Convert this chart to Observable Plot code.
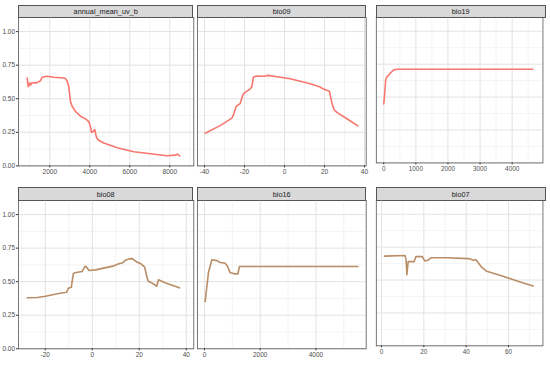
<!DOCTYPE html>
<html>
<head>
<meta charset="utf-8">
<script src="https://cdn.jsdelivr.net/npm/d3@7"></script>
<script src="https://cdn.jsdelivr.net/npm/@observablehq/plot@0.6"></script>
<style>
  html, body { margin: 0; padding: 0; background: #fff; }
  #chart { position: relative; width: 550px; height: 365px; overflow: hidden; font-family: "Liberation Sans", Arial, sans-serif; }
  .strip { position: absolute; box-sizing: border-box; background: #d9d9d9; border: 0.7px solid #555;
           font-size: 7.3px; color: #1a1a1a; text-align: center; }
  .pane { position: absolute; }
</style>
</head>
<body>
<div id="chart"></div>
<script>
// ---- data ----
const panelNames = ["annual_mean_uv_b", "bio09", "bio19", "bio08", "bio16", "bio07"];

const uvbX = [870, 920, 1000, 1040, 1080, 1370, 1535, 1620, 1870, 2200, 2700, 2785, 2870, 2950, 2985, 3035, 3120, 3285, 3535, 3785, 3950, 4035, 4085, 4170, 4250, 4320, 4400, 4700, 5370, 6200, 7035, 7870, 8285, 8370, 8500];
const uvbY = [0.654, 0.59, 0.617, 0.60, 0.617, 0.62, 0.635, 0.66, 0.667, 0.66, 0.655, 0.65, 0.63, 0.59, 0.54, 0.48, 0.443, 0.405, 0.37, 0.35, 0.33, 0.29, 0.25, 0.256, 0.27, 0.22, 0.195, 0.17, 0.135, 0.105, 0.09, 0.075, 0.08, 0.088, 0.075];

const bio09X = [-39.7, -32.2, -26.3, -25.5, -24.2, -22.2, -20.8, -19.7, -17.2, -16.3, -15.5, -13.8, -10.5, -8, -3.8, 2.8, 9.5, 14.5, 17.8, 19.5, 22.5, 23.7, 24.8, 26.2, 31.2, 36.7];
const bio09Y = [0.243, 0.30, 0.356, 0.38, 0.443, 0.463, 0.53, 0.547, 0.572, 0.59, 0.662, 0.669, 0.667, 0.674, 0.664, 0.649, 0.624, 0.604, 0.587, 0.572, 0.555, 0.468, 0.418, 0.398, 0.351, 0.298];

const bio19X = [0, 20, 40, 60, 100, 150, 200, 280, 350, 450, 4650];
const bio19Y = [0.448, 0.50, 0.56, 0.63, 0.655, 0.665, 0.68, 0.70, 0.71, 0.712, 0.712];

const bio08X = [-27.7, -23.4, -19.9, -14.9, -10.9, -10.2, -8.9, -8.1, -7.5, -4.3, -3.1, -2.4, -1.4, 1.4, 9.2, 11.3, 12.8, 14.2, 15.6, 17, 19.1, 20.6, 22.3, 23.1, 23.8, 25.5, 27.4, 28.2, 31.2, 37.1];
const bio08Y = [0.38, 0.382, 0.392, 0.41, 0.421, 0.451, 0.459, 0.558, 0.566, 0.576, 0.615, 0.608, 0.583, 0.588, 0.618, 0.633, 0.64, 0.66, 0.67, 0.672, 0.645, 0.635, 0.608, 0.546, 0.503, 0.49, 0.466, 0.514, 0.491, 0.454];

const bio16X = [25, 61, 144, 265, 445, 564, 743, 826, 923, 1102, 1199, 1257, 5508];
const bio16Y = [0.352, 0.421, 0.57, 0.663, 0.657, 0.643, 0.637, 0.615, 0.566, 0.558, 0.558, 0.613, 0.613];

const bio07X = [1.4, 11.1, 11.6, 12, 12.6, 15.4, 16.2, 19.3, 20.4, 21.9, 23.5, 30.4, 41.2, 43.5, 44.6, 47.4, 49.7, 56.6, 64.4, 71.6];
const bio07Y = [0.682, 0.687, 0.657, 0.541, 0.64, 0.64, 0.678, 0.678, 0.645, 0.65, 0.67, 0.67, 0.663, 0.65, 0.655, 0.596, 0.566, 0.533, 0.491, 0.454];

const yTicks = [0, 0.25, 0.5, 0.75, 1.0];
const yMinor = [0.125, 0.375, 0.625, 0.875];

const xTicks = [
  [2000, 4000, 6000, 8000],
  [-40, -20, 0, 20, 40],
  [0, 1000, 2000, 3000, 4000],
  [-20, 0, 20, 40],
  [0, 2000, 4000],
  [0, 20, 40, 60]
];
const xMinor = [
  [1000, 3000, 5000, 7000, 9000],
  [-30, -10, 10, 30],
  [500, 1500, 2500, 3500, 4500],
  [-30, -10, 10, 30],
  [1000, 3000, 5000],
  [10, 30, 50, 70]
];
const xDomains = [
  [435, 9200],
  [-43.5, 40.85],
  [-232, 4959],
  [-31.4, 43.2],
  [-251, 5806],
  [-2.45, 76.25]
];
const seriesX = [uvbX, bio09X, bio19X, bio08X, bio16X, bio07X];
const seriesY = [uvbY, bio09Y, bio19Y, bio08Y, bio16Y, bio07Y];
const lineColors = ["#f8766d", "#f8766d", "#f8766d", "#b98d66", "#b98d66", "#b98d66"];

// ---- layout ----
const cols = [[18, 193.3], [197.3, 366], [375.7, 545.7]];
const rows = [
  {stripTop: 5, plotTop: 17.3, plotBottom: 165.7},
  {stripTop: 186.5, plotTop: 200, plotBottom: 348.3}
];

const chart = document.getElementById("chart");

panelNames.forEach((name, i) => {
  const c = cols[i % 3], r = rows[Math.floor(i / 3)];
  const showY = i % 3 === 0;
  const pw = c[1] - c[0], ph = r.plotBottom - r.plotTop;
  const ml = showY ? c[0] : 10, mr = 8, mt = 2, mb = 14;

  const strip = document.createElement("div");
  strip.className = "strip";
  strip.style.left = c[0] + "px";
  strip.style.top = r.stripTop + "px";
  strip.style.width = pw + "px";
  strip.style.height = (r.plotTop - r.stripTop + 0.5) + "px";
  strip.style.lineHeight = (r.plotTop - r.stripTop) + "px";
  strip.textContent = name;
  chart.appendChild(strip);

  const xs = seriesX[i], ys = seriesY[i];
  const idx = d3.range(xs.length);

  const svg = Plot.plot({
    width: ml + pw + mr,
    height: mt + ph + mb,
    marginLeft: ml, marginRight: mr, marginTop: mt, marginBottom: mb,
    style: {background: "none", fontFamily: "'Liberation Sans', Arial, sans-serif", fontSize: "6.5px", color: "#4d4d4d", overflow: "visible"},
    x: {domain: xDomains[i], label: null, axis: null},
    y: {domain: [0, 1.105], label: null, axis: null},
    marks: [
      Plot.gridX(xMinor[i], {stroke: "#ececec", strokeOpacity: 1, strokeWidth: 0.6}),
      Plot.gridY(yMinor, {stroke: "#ececec", strokeOpacity: 1, strokeWidth: 0.6}),
      Plot.gridX(xTicks[i], {stroke: "#e2e2e2", strokeOpacity: 1, strokeWidth: 1}),
      Plot.gridY(yTicks, {stroke: "#e2e2e2", strokeOpacity: 1, strokeWidth: 1}),
      Plot.line(idx, {x: j => xs[j], y: j => ys[j], stroke: lineColors[i], strokeWidth: 1.6}),
      Plot.frame({stroke: "#555", strokeWidth: 0.8}),
      Plot.axisX(xTicks[i], {tickSize: 2, tickPadding: 1.5, stroke: "#333", fill: "#4d4d4d", label: null, tickFormat: d => String(d)}),
      showY ? Plot.axisY(yTicks, {tickSize: 2, tickPadding: 1.5, stroke: "#333", fill: "#4d4d4d", label: null, tickFormat: d => d.toFixed(2)}) : null
    ]
  });
  const pane = document.createElement("div");
  pane.className = "pane";
  pane.style.left = (c[0] - ml) + "px";
  pane.style.top = (r.plotTop - mt) + "px";
  pane.appendChild(svg);
  chart.appendChild(pane);
});
</script>
</body>
</html>
